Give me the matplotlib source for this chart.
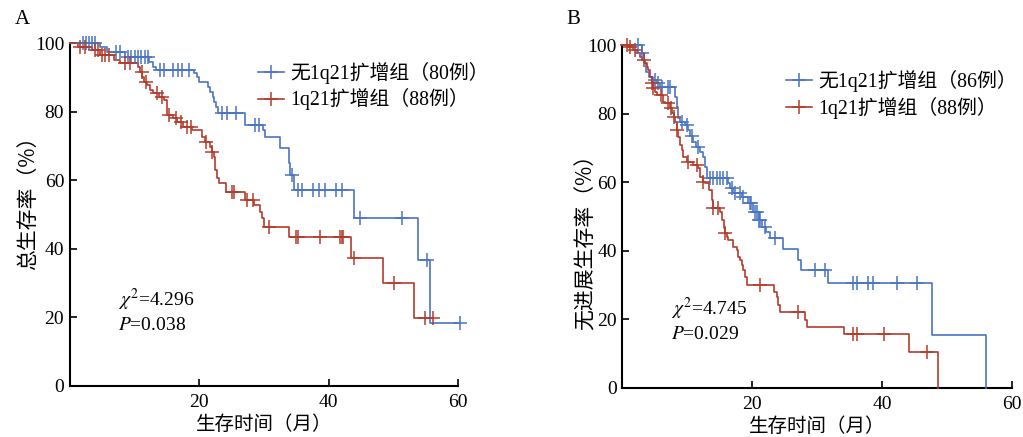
import numpy as np
import matplotlib
matplotlib.use("Agg")
import matplotlib.pyplot as plt
from matplotlib.lines import Line2D
from matplotlib.font_manager import FontProperties

plt.rcParams['font.family'] = ['Liberation Serif', 'Noto Sans CJK SC']
plt.rcParams['mathtext.fontset'] = 'stix'

BLUE = '#4a74c4'
RED = '#b43c2c'

# ---------------- Panel A: overall survival ----------------
a_blue_t = [0, 4.6, 5.8, 8.6, 12.3, 12.8, 13.3, 19.2, 19.7, 20.0, 21.3, 21.6, 22.1, 22.3,
            22.6, 22.9, 27.0, 29.8, 30.2, 32.5, 33.8, 34.0, 34.6, 43.9, 53.8, 55.6, 60.3]
a_blue_s = [100, 98.7, 97.5, 96.0, 94.6, 93.1, 92.1, 91.2, 90.2, 88.7, 87.3, 85.8, 84.3, 82.9,
            81.4, 79.5, 76.1, 74.6, 72.7, 69.3, 65.0, 61.5, 57.1, 48.9, 36.7, 18.3, 18.3]
a_blue_c = [2.0, 2.5, 2.9, 3.4, 3.9, 7.2, 7.8, 9.0, 9.5, 10.0, 10.5, 11.0, 11.6, 12.0,
            13.9, 14.6, 16.0, 16.7, 17.4, 18.4, 23.5, 24.3, 25.7, 28.6, 29.2, 34.3,
            35.3, 35.8, 37.6, 38.5, 39.4, 41.1, 42.0, 44.8, 51.3, 55.1, 60.3]

a_red_t = [0, 1.3, 3.5, 4.7, 6.8, 7.8, 10.5, 10.9, 11.2, 11.4, 11.9, 12.4, 12.9, 13.7, 14.5,
           15.0, 16.0, 16.5, 17.5, 18.8, 20.4, 20.9, 21.7, 21.9, 22.2, 22.5, 22.8, 23.1, 24.2,
           27.1, 28.4, 29.4, 29.7, 30.0, 33.8, 43.5, 48.3, 53.1, 56.1]
a_red_s = [100, 98.9, 98.0, 96.5, 95.0, 94.1, 93.0, 91.6, 90.2, 88.7, 87.8, 86.3, 85.3, 84.3, 83.4,
           79.0, 78.1, 77.1, 75.6, 74.6, 72.7, 71.2, 69.8, 68.3, 66.8, 63.0, 60.6, 59.1, 56.6,
           54.2, 52.8, 50.8, 48.9, 46.4, 43.5, 37.2, 29.9, 19.9, 19.9]
a_red_c = [1.6, 2.3, 3.9, 4.4, 4.9, 5.4, 6.1, 8.5, 9.3, 11.1, 11.7, 13.5, 14.3, 15.3, 16.4,
           17.2, 18.1, 18.7, 21.0, 22.0, 25.0, 25.3, 27.3, 28.3, 30.8, 35.0, 35.3, 38.7,
           41.7, 42.0, 42.2, 43.9, 50.1, 54.9, 56.1]

# ---------------- Panel B: progression-free survival ----------------
b_blue_t = [0, 3.0, 3.3, 3.6, 4.1, 4.8, 5.3, 5.8, 8.1, 8.4, 8.6, 8.9, 9.7, 10.2, 10.5, 10.9,
            11.4, 11.9, 12.4, 12.7, 13.0, 16.3, 16.6, 17.1, 18.4, 19.4, 20.2, 21.0, 21.5, 22.2,
            22.8, 24.8, 27.1, 27.6, 31.7, 47.7, 56.0]
b_blue_s = [100, 97.6, 94.7, 92.2, 90.7, 89.8, 88.8, 87.8, 84.9, 82.0, 78.6, 77.6, 76.7, 75.2,
            73.5, 71.8, 70.3, 68.8, 67.4, 64.5, 61.1, 59.6, 58.2, 56.7, 55.7, 53.8, 51.4, 48.9,
            47.0, 45.5, 43.6, 40.4, 37.3, 34.3, 30.5, 15.4, 0]
b_blue_c = [2.4, 3.0, 5.0, 5.5, 6.1, 7.0, 7.3, 9.2, 10.0, 10.8, 11.6, 13.5, 14.0, 14.6, 15.1,
            15.5, 16.1, 16.9, 17.4, 18.1, 18.6, 19.7, 19.9, 20.4, 20.7, 21.0, 21.2, 22.0,
            23.5, 29.7, 31.2, 35.6, 36.1, 37.9, 38.7, 42.3, 45.4]

b_red_t = [0, 0.9, 1.7, 2.2, 2.7, 3.0, 3.5, 3.8, 4.0, 4.3, 4.5, 4.8, 5.0, 5.3, 6.3, 6.6, 7.3,
           7.6, 7.9, 8.1, 8.4, 8.6, 8.9, 9.2, 9.4, 9.9, 10.9, 11.7, 12.0, 12.5, 12.7, 13.3, 13.8,
           14.0, 15.1, 15.3, 15.6, 15.8, 16.1, 16.3, 17.1, 17.6, 17.9, 18.1, 18.4, 18.6, 18.9,
           19.2, 23.3, 23.8, 24.0, 24.3, 28.2, 28.4, 34.2, 44.2, 48.7]
b_red_s = [100, 99.5, 98.5, 97.6, 96.6, 95.6, 94.7, 93.7, 92.7, 90.7, 88.8, 87.4, 86.4, 85.4,
           83.5, 83.0, 81.5, 80.1, 79.1, 77.6, 75.2, 73.2, 70.8, 69.4, 67.4, 65.9, 65.0, 64.0,
           61.6, 60.1, 59.6, 57.7, 54.8, 52.3, 51.4, 48.9, 46.5, 45.0, 44.1, 43.1, 41.1, 40.2,
           38.2, 37.3, 35.8, 34.3, 32.4, 30.0, 28.0, 26.6, 24.1, 22.0, 19.8, 17.8, 15.6, 10.3, 0]
b_red_c = [0.7, 1.2, 1.9, 3.4, 4.5, 4.8, 6.0, 7.0, 7.5, 8.0, 8.4, 10.2, 11.5, 12.5, 14.0,
           14.8, 15.9, 21.2, 27.0, 35.6, 36.2, 40.4, 46.9]

stats_a = ['4.296', '0.038']
stats_b = ['4.745', '0.029']
legend_a = ['无1q21扩增组（80例）', '1q21扩增组（88例）']
legend_b = ['无1q21扩增组（86例）', '1q21扩增组（88例）']
ylabel_a = '总生存率（%）'
ylabel_b = '无进展生存率（%）'
xlabel = '生存时间（月）'
yticks = [0, 20, 40, 60, 80, 100]
xticks = [20, 40, 60]

W, H = 1023, 437
fig = plt.figure(figsize=(W / 100, H / 100), dpi=100)

cjk = FontProperties(family=['Liberation Serif', 'Noto Sans CJK SC'], size=14.3)
xlab_font = FontProperties(family=['Noto Sans CJK SC'], size=14)
ylab_font = FontProperties(family=['Noto Sans CJK SC'], size=15)


def km(ax, t, s, c, color):
    ax.step(t, s, where='post', color=color, lw=1.2, clip_on=False, zorder=3)
    t_arr = np.array(t)
    s_arr = np.array(s)
    idx = np.searchsorted(t_arr, np.array(c), side='right') - 1
    idx = np.clip(idx, 0, len(s_arr) - 1)
    ax.plot(c, s_arr[idx], ls='none', marker='+', ms=10, mew=1.1, color=color,
            clip_on=False, zorder=4)


def style(ax, ylabel, ylab_x, ylab_y):
    ax.set_xlim(0, 60)
    ax.set_ylim(0, 100)
    ax.set_xticks(xticks)
    ax.set_yticks(yticks)
    for sp in ['top', 'right']:
        ax.spines[sp].set_visible(False)
    for sp in ['left', 'bottom']:
        ax.spines[sp].set_linewidth(1.5)
    ax.tick_params(direction='in', length=5, width=1.2, labelsize=14)
    ax.tick_params(axis='x', pad=6)
    ax.tick_params(axis='y', pad=4)
    ax.set_xlabel(xlabel, fontproperties=xlab_font, labelpad=2)
    ax.set_ylabel(ylabel, fontproperties=ylab_font)
    ax.yaxis.set_label_coords(ylab_x, ylab_y)


def pos(x0, x1, ytop, ybot):
    return [x0 / W, 1 - ybot / H, (x1 - x0) / W, (ybot - ytop) / H]


axA = fig.add_axes(pos(69.8, 458.3, 43, 386))
axB = fig.add_axes(pos(622.3, 1011.7, 45, 387.7))

km(axA, a_blue_t, a_blue_s, a_blue_c, BLUE)
km(axA, a_red_t, a_red_s, a_red_c, RED)
km(axB, b_blue_t, b_blue_s, b_blue_c, BLUE)
km(axB, b_red_t, b_red_s, b_red_c, RED)
style(axA, ylabel_a, -0.08, 0.548)
style(axB, ylabel_b, -0.067, 0.44)

handles = [Line2D([], [], color=BLUE, marker='+', ms=10, mew=1.1, lw=1.2),
           Line2D([], [], color=RED, marker='+', ms=10, mew=1.1, lw=1.2)]
axA.legend(handles, legend_a, loc='upper left', bbox_to_anchor=(0.46, 0.975), frameon=False,
           prop=cjk, handlelength=1.3, handletextpad=0.3, labelspacing=0.25, borderpad=0)
axB.legend(handles, legend_b, loc='upper left', bbox_to_anchor=(0.395, 0.957), frameon=False,
           prop=cjk, handlelength=1.3, handletextpad=0.3, labelspacing=0.25, borderpad=0)

axA.text(0.125, 0.25, r'$\chi^{2}$=' + stats_a[0], transform=axA.transAxes, fontsize=14,
         va='center', ha='left')
axA.text(0.125, 0.175, r'$P$=' + stats_a[1], transform=axA.transAxes, fontsize=14,
         va='center', ha='left')
axB.text(0.125, 0.23, r'$\chi^{2}$=' + stats_b[0], transform=axB.transAxes, fontsize=14,
         va='center', ha='left')
axB.text(0.125, 0.155, r'$P$=' + stats_b[1], transform=axB.transAxes, fontsize=14,
         va='center', ha='left')

fig.text(15 / W, 1 - 20 / H, 'A', fontsize=15, va='center', ha='left')
fig.text(566 / W, 1 - 20 / H, 'B', fontsize=15, va='center', ha='left')

fig.savefig('out.png', dpi=100)
